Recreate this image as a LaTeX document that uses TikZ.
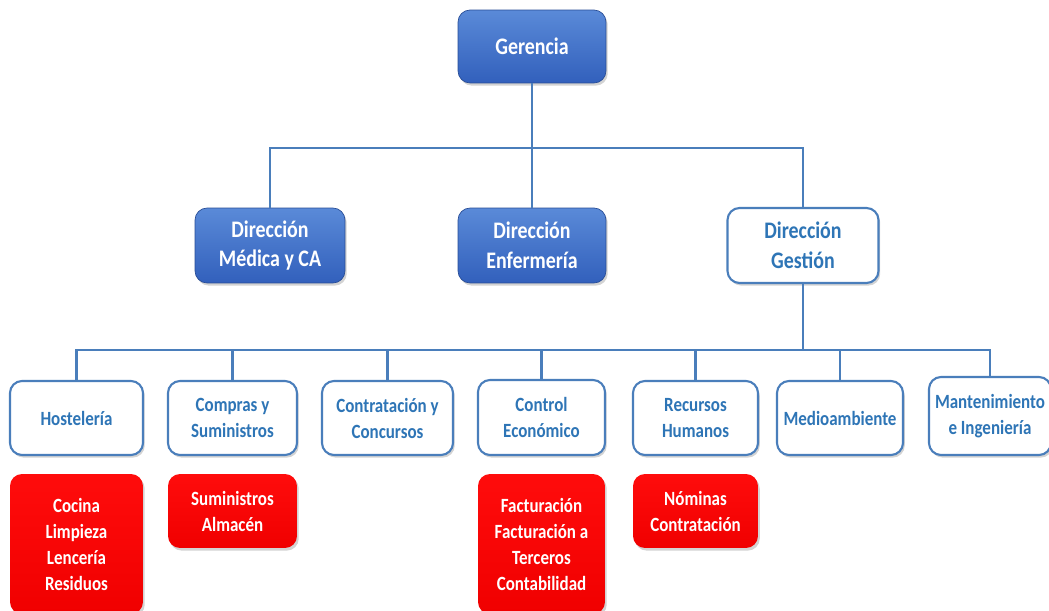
\documentclass[tikz,border=0pt]{standalone}
\usepackage{fontspec}
\setmainfont{Carlito}[FakeStretch=0.84]
\usepackage{tikz}
\usetikzlibrary{shadows}

\definecolor{linea}{RGB}{74,126,187}
\definecolor{azularriba}{RGB}{90,138,216}
\definecolor{azulabajo}{RGB}{50,96,188}
\definecolor{textoazul}{RGB}{46,117,182}
\definecolor{rojoarriba}{RGB}{255,12,12}
\definecolor{rojoabajo}{RGB}{240,0,0}

\begin{document}
\begin{tikzpicture}[x=0.02cm,y=-0.02cm,
		caja/.style={rounded corners=0.24cm,inner sep=0pt,outer sep=0pt,align=center,font=\bfseries,
			drop shadow={shadow xshift=1pt,shadow yshift=-1.5pt,opacity=0.35}},
		azul/.style={caja,draw=azulabajo!80!black,top color=azularriba,bottom color=azulabajo,text=white,
			font=\bfseries\fontsize{13.5}{17}\selectfont},
		blanca/.style={caja,draw=linea,line width=1.2pt,fill=white,text=textoazul},
		blancagrande/.style={blanca,font=\bfseries\fontsize{13.5}{17}\selectfont},
		blancapeq/.style={blanca,font=\bfseries\fontsize{11.5}{14.8}\selectfont},
		roja/.style={caja,top color=rojoarriba,bottom color=rojoabajo,text=white,
			font=\bfseries\fontsize{11.5}{14.8}\selectfont},
		enlace/.style={draw=linea,line width=1.6pt}]
			\clip (0,0) rectangle (1049,611);

			\node[azul,minimum width=2.96cm,minimum height=1.46cm] (ger) at (532,46.5) {Gerencia};

			\node[azul,minimum width=3cm,minimum height=1.5cm] (dmed) at (270,245.5) {Dirección\\Médica y CA};
			\node[azul,minimum width=2.96cm,minimum height=1.5cm] (denf) at (532,245.5) {Dirección\\Enfermería};
			\node[blancagrande,minimum width=3.02cm,minimum height=1.5cm] (dges) at (803,245.5) {Dirección\\Gestión};

			\node[blancapeq,minimum width=2.66cm,minimum height=1.48cm] (host) at (76.5,418) {Hostelería};
			\node[blancapeq,minimum width=2.58cm,minimum height=1.48cm] (comp) at (232.5,418) {Compras y\\Suministros};
			\node[blancapeq,minimum width=2.62cm,minimum height=1.48cm] (cont) at (387.5,418) {Contratación y\\Concursos};
			\node[blancapeq,minimum width=2.54cm,minimum height=1.5cm] (ctrl) at (541.5,417.5) {Control\\Económico};
			\node[blancapeq,minimum width=2.5cm,minimum height=1.48cm] (rrhh) at (695.5,418) {Recursos\\Humanos};
			\node[blancapeq,minimum width=2.52cm,minimum height=1.48cm] (medio) at (840,418) {Medioambiente};
			\node[blancapeq,minimum width=2.44cm,minimum height=1.56cm] (mant) at (990,416) {Mantenimiento\\e Ingeniería};

			\node[roja,minimum width=2.66cm,minimum height=2.8cm] (cocina) at (76.5,544) {Cocina\\Limpieza\\Lencería\\Residuos};
			\node[roja,minimum width=2.58cm,minimum height=1.48cm] (sumi) at (232.5,511) {Suministros\\Almacén};
			\node[roja,minimum width=2.54cm,minimum height=2.8cm] (fact) at (541.5,544) {Facturación\\Facturación a\\Terceros\\Contabilidad};
			\node[roja,minimum width=2.5cm,minimum height=1.48cm] (nom) at (695.5,511) {Nóminas\\Contratación};

			\coordinate (bus1) at (532,148);
			\draw[enlace] (ger) -- (bus1);
			\draw[enlace] (bus1) -| (dmed);
			\draw[enlace] (bus1) -- (denf);
			\draw[enlace] (bus1) -| (dges);

			\coordinate (bus2) at (803,350);
			\draw[enlace] (dges) -- (bus2);
			\foreach \n in {host,comp,cont,ctrl,rrhh,medio,mant}
				\draw[enlace] (bus2) -| (\n);
		\end{tikzpicture}
\end{document}
